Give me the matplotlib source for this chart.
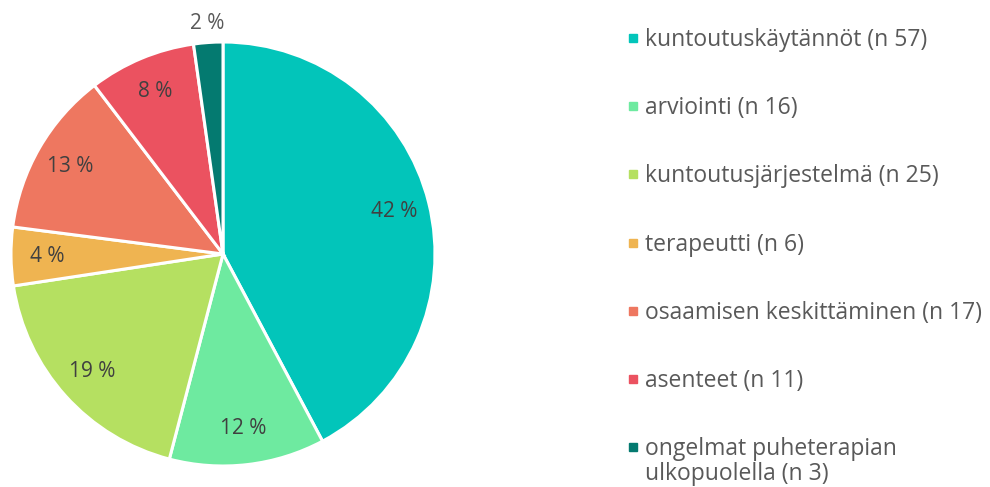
import matplotlib.pyplot as plt
from matplotlib.lines import Line2D

# data
luokat = [
    "kuntoutuskäytännöt (n 57)",
    "arviointi (n 16)",
    "kuntoutusjärjestelmä (n 25)",
    "terapeutti (n 6)",
    "osaamisen keskittäminen (n 17)",
    "asenteet (n 11)",
    "ongelmat puheterapian\nulkopuolella (n 3)",
]
maarat = [57, 16, 25, 6, 17, 11, 3]
varit = ["#02C5BA", "#6EEAA0", "#B5E061", "#EFB451", "#EE7760", "#EB5260", "#047A70"]

plt.rcParams["font.family"] = ["Open Sans", "DejaVu Sans"]

W, H = 990, 487
fig = plt.figure(figsize=(W / 100, H / 100), dpi=100)
ax = fig.add_axes([11 / W, 21 / H, 424 / W, 424 / H])

wedges, texts, autotexts = ax.pie(
    maarat,
    colors=varit,
    startangle=90,
    counterclock=False,
    autopct=lambda p: f"{round(p)} %",
    pctdistance=0.83,
    wedgeprops=dict(edgecolor="white", linewidth=2.2),
    textprops=dict(color="#404040", fontsize=15),
)
# pienin osuus ulkopuolelle
last = autotexts[-1]
x, y = last.get_position()
last.set_position((x * 1.09 / 0.83, y * 1.09 / 0.83))
last.set_color("#595959")

ax.set_xlim(-1, 1)
ax.set_ylim(-1, 1)
ax.set_aspect("equal")
ax.axis("off")

# selite käsin, jotta monirivinen merkki on ensimmäisen rivin kohdalla
for i, (nimi, vari) in enumerate(zip(luokat, varit)):
    yy = 1 - (38 + i * 68.2) / H
    fig.add_artist(Line2D([633 / W], [yy], marker="s", markersize=6, color=vari,
                          linestyle="", transform=fig.transFigure))
    fig.text(645 / W, yy + 10 / H, nimi, ha="left", va="top", fontsize=16.5,
             color="#595959", linespacing=1.05)

fig.savefig("out.png", dpi=100, facecolor="white")
